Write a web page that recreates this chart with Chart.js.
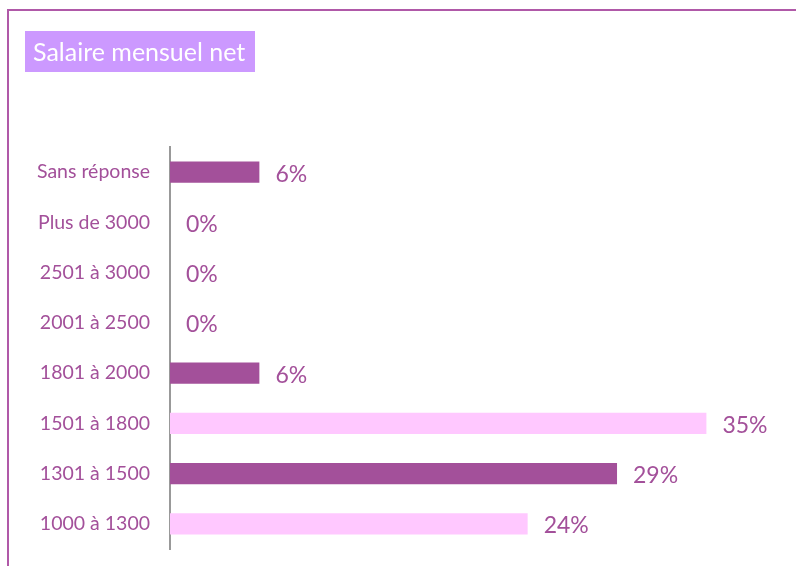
<!DOCTYPE html>
<html>
<head>
<meta charset="utf-8">
<script src="https://cdn.jsdelivr.net/npm/chart.js@4/dist/chart.umd.min.js"></script>
<style>
  html, body { margin: 0; padding: 0; background: #fff; }
  #wrap { width: 796px; height: 566px; }
</style>
</head>
<body>
<div id="wrap"><canvas id="salaire" width="796" height="566"></canvas></div>
<script>
const categories = ['Sans réponse', 'Plus de 3000', '2501 à 3000', '2001 à 2500',
  '1801 à 2000', '1501 à 1800', '1301 à 1500', '1000 à 1300'];
const values = [5.88, 0, 0, 0, 5.88, 35.29, 29.41, 23.53];
const barColors = ['#A3509A', '#A3509A', '#A3509A', '#A3509A',
  '#A3509A', '#FFC8FF', '#A3509A', '#FFC8FF'];

const FONT = 'Lato, "Open Sans", sans-serif';
const TEXT = '#A3509A';

// frame + title box, drawn behind the chart
const decor = {
  id: 'decor',
  beforeDraw(chart) {
    const c = chart.ctx;
    c.save();
    c.fillStyle = '#fff';
    c.fillRect(0, 0, chart.width, chart.height);
    c.strokeStyle = '#B059A8';
    c.lineWidth = 2;
    c.beginPath();
    c.moveTo(8, 600);
    c.lineTo(8, 10);
    c.lineTo(800, 10);
    c.stroke();
    c.fillStyle = '#CC99FF';
    c.fillRect(25, 31, 230, 41);
    c.fillStyle = '#fff';
    c.font = '25px ' + FONT;
    c.textBaseline = 'middle';
    c.fillText('Salaire mensuel net', 33, 53);
    c.restore();
  }
};

// percentage labels at bar ends
const valueLabels = {
  id: 'valueLabels',
  afterDatasetsDraw(chart) {
    const c = chart.ctx;
    const meta = chart.getDatasetMeta(0);
    c.save();
    c.fillStyle = TEXT;
    c.font = '23px ' + FONT;
    c.textBaseline = 'middle';
    meta.data.forEach((bar, i) => {
      c.fillText(Math.round(values[i]) + '%', bar.x + 16, bar.y + 2);
    });
    c.restore();
  }
};

new Chart(document.getElementById('salaire').getContext('2d'), {
  type: 'bar',
  data: {
    labels: categories,
    datasets: [{
      data: values,
      backgroundColor: barColors,
      categoryPercentage: 1,
      barPercentage: 0.42
    }]
  },
  options: {
    indexAxis: 'y',
    responsive: false,
    animation: false,
    layout: { padding: { top: 147, bottom: 17, right: 18, left: 0 } },
    plugins: { legend: { display: false }, tooltip: { enabled: false } },
    scales: {
      x: { display: false, min: 0, max: 40 },
      y: {
        afterFit(scale) {
          scale.width = 170;
          scale.paddingTop = 0;
          scale.paddingBottom = 0;
        },
        grid: { display: false, drawTicks: false },
        border: { display: true, color: '#999', width: 2 },
        ticks: { color: TEXT, font: { family: FONT, size: 19.5 }, padding: 20 }
      }
    }
  },
  plugins: [decor, valueLabels]
});
</script>
</body>
</html>
